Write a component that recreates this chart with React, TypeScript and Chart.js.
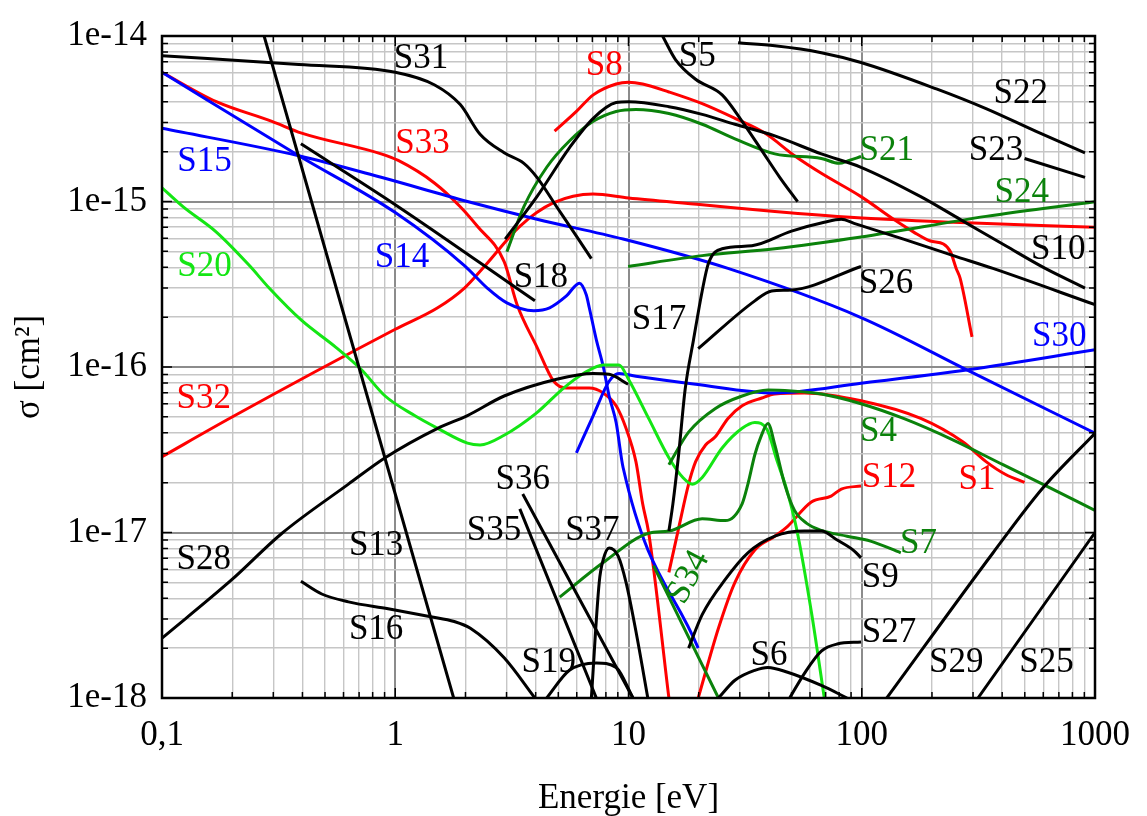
import React, { useEffect, useRef } from 'react';
import { Chart, registerables } from 'chart.js';

Chart.register(...registerables);

type P = [number, number];

// ---- axes ----
const X_DECADES = [0.1, 1, 10, 100, 1000];
const X_LABELS = ['0,1', '1', '10', '100', '1000'];
const Y_DECADES = [1e-18, 1e-17, 1e-16, 1e-15, 1e-14];
const Y_LABELS = ['1e-18', '1e-17', '1e-16', '1e-15', '1e-14'];
const MINOR = [2, 3, 4, 5, 6, 7, 8, 9];
const X_TITLE = 'Energie [eV]';
const Y_TITLE = 'σ [cm²]';

// ---- series: [energy eV, cross section cm²] ----
const S1: P[] = [[14.9, 5.74e-18], [16.4, 1.06e-17], [18.1, 1.96e-17], [19.4, 2.68e-17], [21.4, 3.38e-17], [23.5, 3.77e-17], [26.7, 4.89e-17], [30.7, 5.83e-17], [37.3, 6.5e-17], [42.4, 6.87e-17], [56.8, 6.97e-17], [99.3, 6.25e-17], [179, 4.89e-17], [272, 3.52e-17], [341, 2.68e-17], [414, 2.24e-17], [499, 2.01e-17]];
const S4: P[] = [[14.9, 2.57e-17], [18.1, 4.04e-17], [23.5, 5.6e-17], [30.7, 6.68e-17], [39.6, 7.26e-17], [50.0, 7.16e-17], [67.1, 6.87e-17], [99.3, 6.0e-17], [151, 4.89e-17], [247, 3.62e-17], [403, 2.57e-17], [596, 1.96e-17], [1000, 1.36e-17]];
const S5: P[] = [[14.0, 1e-14], [15.9, 7.21e-15], [19.4, 5.48e-15], [25.2, 4.41e-15], [30.7, 3.05e-15], [37.3, 2.03e-15], [44.5, 1.4e-15], [53.1, 9.97e-16]];
const S6: P[] = [[24.3, 1e-18], [28.6, 1.28e-18], [34.8, 1.47e-18], [39.6, 1.53e-18], [48.1, 1.43e-18], [67.1, 1.19e-18], [86.5, 1e-18]];
const S7: P[] = [[5.07, 4.07e-18], [7.79, 6.58e-18], [12.2, 9.9e-18], [14.9, 1.02e-17], [20.7, 1.21e-17], [26.0, 1.18e-17], [30.7, 1.49e-17], [32.5, 1.96e-17], [34.8, 2.95e-17], [36.9, 3.77e-17], [39.6, 4.56e-17], [42.4, 3.38e-17], [46.7, 1.96e-17], [51.5, 1.36e-17], [57.9, 1.14e-17], [67.1, 1.03e-17], [86.5, 9.5e-18], [109, 8.87e-18], [147, 7.54e-18]];
const S8: P[] = [[4.82, 2.66e-15], [5.98, 3.5e-15], [7.06, 4.41e-15], [8.85, 5.13e-15], [10.0, 5.26e-15], [11.5, 5.13e-15], [14.9, 4.59e-15], [20.7, 3.9e-15], [28.6, 3.18e-15], [38.4, 2.59e-15], [51.5, 1.89e-15], [67.1, 1.48e-15], [99.3, 1.07e-15], [137, 7.8e-16], [167, 6.53e-16], [197, 5.77e-16], [224, 5.54e-16], [240, 4.97e-16], [254, 3.94e-16], [264, 3.44e-16], [297, 1.52e-16]];
const S9: P[] = [[18.1, 2.0e-18], [20.7, 3.19e-18], [26.0, 5.21e-18], [32.5, 7.54e-18], [42.4, 9.5e-18], [56.8, 1.02e-17], [67.1, 1.02e-17], [78.5, 9.0e-18], [92.7, 7.75e-18], [99.3, 7.03e-18]];
const S10: P[] = [[2.96, 5.93e-16], [4.05, 1.07e-15], [5.58, 2.11e-15], [7.06, 3.18e-15], [8.85, 3.96e-15], [10.0, 4.01e-15], [14.9, 3.74e-15], [20.7, 3.36e-15], [28.6, 2.93e-15], [42.4, 2.49e-15], [67.1, 1.94e-15], [99.3, 1.61e-15], [179, 1.07e-15], [264, 7.8e-16], [414, 5.4e-16], [612, 3.94e-16], [906, 3.0e-16]];
const S12: P[] = [[19.9, 1e-18], [24.3, 2.64e-18], [28.6, 5.0e-18], [34.8, 7.85e-18], [42.4, 9.5e-18], [48.1, 1.09e-17], [60.8, 1.53e-17], [73.9, 1.66e-17], [81.7, 1.83e-17], [99.3, 1.91e-17]];
const S13: P[] = [[0.274, 1e-14], [1.78, 1e-18]];
const S14: P[] = [[0.1, 6.04e-15], [0.386, 1.89e-15], [1.0, 8.57e-16], [1.98, 4.1e-16], [2.48, 3.0e-16], [3.01, 2.44e-16], [3.93, 2.19e-16], [4.59, 2.28e-16], [5.42, 2.69e-16], [6.16, 3.21e-16], [6.59, 2.73e-16], [6.79, 2.28e-16], [7.28, 1.46e-16], [7.79, 1.01e-16], [8.26, 6.68e-17], [8.85, 4.62e-17], [9.48, 2.47e-17], [19.9, 2.0e-18]];
const S15: P[] = [[0.1, 2.77e-15], [0.386, 1.89e-15], [0.87, 1.4e-15], [2.04, 1.0e-15], [4.05, 7.82e-16], [9.48, 5.93e-16], [26.7, 3.94e-16], [99.3, 1.99e-16], [291, 9.4e-17], [1000, 3.98e-17]];
const S16: P[] = [[0.394, 5.07e-18], [0.484, 4.25e-18], [0.63, 3.81e-18], [0.932, 3.46e-18], [1.42, 3.1e-18], [1.79, 2.9e-18], [2.1, 2.64e-18], [2.93, 1.75e-18], [3.97, 1e-18]];
const S17: P[] = [[14.9, 1.02e-17], [15.5, 1.49e-17], [16.4, 2.95e-17], [17.5, 7.36e-17], [19.0, 1.46e-16], [20.7, 2.88e-16], [22.0, 4.22e-16], [25.2, 5.18e-16], [33.8, 5.4e-16], [50.0, 6.62e-16], [69.1, 7.49e-16], [81.7, 7.8e-16], [92.7, 7.38e-16], [151, 5.93e-16], [247, 4.71e-16], [365, 3.94e-16], [1000, 2.38e-16]];
const S18: P[] = [[0.394, 2.23e-15], [1.0, 9.57e-16], [3.97, 2.51e-16]];
const S19: P[] = [[4.46, 1e-18], [5.58, 1.47e-18], [7.28, 1.63e-18], [8.85, 1.53e-18], [10.45, 1e-18]];
const S20: P[] = [[0.1, 1.21e-15], [0.123, 9.3e-16], [0.171, 6.53e-16], [0.237, 4.1e-16], [0.288, 3.0e-16], [0.397, 1.91e-16], [0.555, 1.32e-16], [0.715, 9.66e-17], [0.905, 6.68e-17], [1.21, 5.09e-17], [1.52, 4.26e-17], [2.04, 3.47e-17], [2.31, 3.38e-17], [2.93, 3.87e-17], [4.05, 5.3e-17], [5.27, 7.46e-17], [6.41, 9.14e-17], [7.79, 1.03e-16], [9.11, 1.03e-16], [10.0, 8.44e-17], [12.2, 4.89e-17], [14.9, 2.83e-17], [17.1, 2.15e-17], [18.8, 1.96e-17], [20.7, 2.15e-17], [25.2, 3.24e-17], [30.7, 4.26e-17], [34.8, 4.62e-17], [39.2, 4.21e-17], [43.2, 2.75e-17], [47.6, 1.83e-17], [52.5, 1.06e-17], [60.8, 3.32e-18], [69.1, 1e-18]];
const S21: P[] = [[3.01, 4.97e-16], [3.56, 9.3e-16], [4.46, 1.61e-15], [5.58, 2.32e-15], [7.06, 3.05e-15], [8.85, 3.5e-15], [10.76, 3.6e-15], [14.9, 3.4e-15], [20.7, 2.93e-15], [28.6, 2.39e-15], [42.4, 1.94e-15], [67.1, 1.82e-15], [80.0, 1.7e-15], [88.2, 1.77e-15], [99.3, 1.87e-15]];
const S22: P[] = [[29.5, 9.09e-15], [42.4, 8.72e-15], [67.1, 7.93e-15], [99.3, 6.92e-15], [209, 4.79e-15], [341, 3.64e-15], [556, 2.66e-15], [906, 1.97e-15]];
const S23: P[] = [[499, 1.82e-15], [906, 1.4e-15]];
const S24: P[] = [[9.96, 4.05e-16], [20.7, 4.71e-16], [42.4, 5.18e-16], [99.3, 6.1e-16], [341, 8.13e-16], [1000, 9.97e-16]];
const S25: P[] = [[315, 1e-18], [1000, 1.0e-17]];
const S26: P[] = [[19.9, 1.29e-16], [34.8, 2.51e-16], [41.1, 2.88e-16], [50.0, 2.92e-16], [99.3, 4.05e-16]];
const S27: P[] = [[49.1, 1e-18], [56.8, 1.41e-18], [67.1, 1.92e-18], [78.5, 2.12e-18], [99.3, 2.18e-18]];
const S28: P[] = [[0.1, 2.3e-18], [0.198, 5.15e-18], [0.327, 9.9e-18], [0.63, 1.96e-17], [0.905, 2.83e-17], [1.52, 4.26e-17], [2.04, 5.09e-17], [2.93, 6.68e-17], [4.92, 8.44e-17], [7.06, 9.14e-17], [8.26, 9.03e-17], [9.96, 7.87e-17]];
const S29: P[] = [[128, 1e-18], [365, 7.52e-18], [596, 1.85e-17], [1000, 3.98e-17]];
const S30: P[] = [[5.98, 3.03e-17], [7.06, 5.09e-17], [8.26, 8.2e-17], [9.11, 9.14e-17], [10.76, 8.79e-17], [19.4, 7.87e-17], [42.4, 6.97e-17], [99.3, 7.98e-17], [291, 9.66e-17], [1000, 1.27e-16]];
const S31: P[] = [[0.1, 7.6e-15], [0.386, 6.73e-15], [1.0, 6.04e-15], [1.476, 5.06e-15], [1.9, 3.85e-15], [2.31, 2.55e-15], [2.93, 1.97e-15], [3.56, 1.7e-15], [4.05, 1.4e-15], [4.92, 9.3e-16], [5.98, 6.18e-16], [6.93, 4.52e-16]];
const S32: P[] = [[0.1, 2.87e-17], [0.198, 4.95e-17], [1.0, 1.69e-16], [1.52, 2.28e-16], [1.98, 3.0e-16], [2.41, 4.05e-16], [3.42, 7.08e-16], [4.78, 9.83e-16], [7.06, 1.11e-15], [10.0, 1.05e-15], [20.7, 9.57e-16], [42.4, 8.7e-16], [92.7, 8.0e-16], [247, 7.49e-16], [1000, 6.98e-16]];
const S33: P[] = [[0.1, 6.04e-15], [0.171, 4.01e-15], [0.296, 3.05e-15], [0.397, 2.59e-15], [0.87, 1.94e-15], [1.03, 1.77e-15], [1.476, 1.29e-15], [1.9, 9.3e-16], [2.25, 7.08e-16], [2.93, 4.33e-16], [3.33, 2.38e-16], [4.05, 1.32e-16], [4.78, 8.2e-17], [5.42, 7.46e-17], [6.79, 7.46e-17], [7.79, 6.97e-17], [8.85, 5.83e-17], [9.76, 4.26e-17], [10.76, 2.68e-17], [11.5, 1.49e-17], [12.2, 1.0e-17], [14.9, 1e-18]];
const S34: P[] = [[12.8, 6.3e-18], [24.3, 1e-18]];
const S35: P[] = [[3.42, 1.39e-17], [7.28, 1e-18]];
const S36: P[] = [[3.52, 1.71e-17], [10.45, 1e-18]];
const S37: P[] = [[6.93, 1e-18], [7.49, 5.0e-18], [7.79, 6.85e-18], [8.26, 8.07e-18], [9.02, 7.23e-18], [9.76, 5.0e-18], [10.76, 2.53e-18], [12.1, 1e-18]];

// ---- styles ----
const BLACK = '#000000';
const RED = '#ff0000';
const BLUE = '#0000ff';
const LIME = '#14e614';
const GREEN = '#0b820b';
const FONT = "'Liberation Serif', 'Times New Roman', serif";
const FS = 35;

const SERIES: { name: string; data: P[]; color: string }[] = [
  { name: 'S28', data: S28, color: BLACK },
  { name: 'S16', data: S16, color: BLACK },
  { name: 'S13', data: S13, color: BLACK },
  { name: 'S18', data: S18, color: BLACK },
  { name: 'S31', data: S31, color: BLACK },
  { name: 'S10', data: S10, color: BLACK },
  { name: 'S5', data: S5, color: BLACK },
  { name: 'S22', data: S22, color: BLACK },
  { name: 'S23', data: S23, color: BLACK },
  { name: 'S17', data: S17, color: BLACK },
  { name: 'S26', data: S26, color: BLACK },
  { name: 'S9', data: S9, color: BLACK },
  { name: 'S6', data: S6, color: BLACK },
  { name: 'S27', data: S27, color: BLACK },
  { name: 'S29', data: S29, color: BLACK },
  { name: 'S25', data: S25, color: BLACK },
  { name: 'S19', data: S19, color: BLACK },
  { name: 'S35', data: S35, color: BLACK },
  { name: 'S36', data: S36, color: BLACK },
  { name: 'S37', data: S37, color: BLACK },
  { name: 'S21', data: S21, color: GREEN },
  { name: 'S24', data: S24, color: GREEN },
  { name: 'S4', data: S4, color: GREEN },
  { name: 'S7', data: S7, color: GREEN },
  { name: 'S34', data: S34, color: GREEN },
  { name: 'S20', data: S20, color: LIME },
  { name: 'S15', data: S15, color: BLUE },
  { name: 'S14', data: S14, color: BLUE },
  { name: 'S30', data: S30, color: BLUE },
  { name: 'S32', data: S32, color: RED },
  { name: 'S33', data: S33, color: RED },
  { name: 'S8', data: S8, color: RED },
  { name: 'S1', data: S1, color: RED },
  { name: 'S12', data: S12, color: RED },
];

// curve labels, anchored in data coordinates
const LABELS: { text: string; e: number; s: number; color: string; rot?: number }[] = [
  { text: 'S31', e: 1.29, s: 7.31e-15, color: BLACK },
  { text: 'S8', e: 7.87, s: 6.64e-15, color: RED },
  { text: 'S5', e: 19.7, s: 7.51e-15, color: BLACK },
  { text: 'S22', e: 480, s: 4.47e-15, color: BLACK },
  { text: 'S15', e: 0.152, s: 1.74e-15, color: BLUE },
  { text: 'S33', e: 1.31, s: 2.23e-15, color: RED },
  { text: 'S23', e: 376, s: 2.03e-15, color: BLACK },
  { text: 'S21', e: 128, s: 2.03e-15, color: GREEN },
  { text: 'S24', e: 485, s: 1.13e-15, color: GREEN },
  { text: 'S10', e: 696, s: 5.1e-16, color: BLACK },
  { text: 'S20', e: 0.152, s: 4.05e-16, color: LIME },
  { text: 'S14', e: 1.07, s: 4.58e-16, color: BLUE },
  { text: 'S18', e: 4.21, s: 3.48e-16, color: BLACK },
  { text: 'S26', e: 127, s: 3.17e-16, color: BLACK },
  { text: 'S17', e: 13.5, s: 1.94e-16, color: BLACK },
  { text: 'S30', e: 703, s: 1.52e-16, color: BLUE },
  { text: 'S32', e: 0.151, s: 6.41e-17, color: RED },
  { text: 'S4', e: 118, s: 4.04e-17, color: GREEN },
  { text: 'S12', e: 131, s: 2.15e-17, color: RED },
  { text: 'S1', e: 312, s: 2.09e-17, color: RED },
  { text: 'S36', e: 3.52, s: 2.09e-17, color: BLACK },
  { text: 'S35', e: 2.65, s: 1.02e-17, color: BLACK },
  { text: 'S37', e: 7.0, s: 1.02e-17, color: BLACK },
  { text: 'S13', e: 0.828, s: 8.3e-18, color: BLACK },
  { text: 'S28', e: 0.151, s: 6.86e-18, color: BLACK },
  { text: 'S9', e: 120, s: 5.36e-18, color: BLACK },
  { text: 'S7', e: 175, s: 8.52e-18, color: GREEN },
  { text: 'S34', e: 18.1, s: 5.36e-18, color: GREEN, rot: -62 },
  { text: 'S16', e: 0.828, s: 2.6e-18, color: BLACK },
  { text: 'S27', e: 131, s: 2.49e-18, color: BLACK },
  { text: 'S19', e: 4.55, s: 1.63e-18, color: BLACK },
  { text: 'S6', e: 40.0, s: 1.8e-18, color: BLACK },
  { text: 'S29', e: 254, s: 1.63e-18, color: BLACK },
  { text: 'S25', e: 619, s: 1.63e-18, color: BLACK },
];

type Tick = { value: number; major: boolean };
function buildTicks(decades: number[]): Tick[] {
  const out: Tick[] = [];
  decades.forEach((d, i) => {
    out.push({ value: d, major: true });
    if (i < decades.length - 1) MINOR.forEach((m) => out.push({ value: d * m, major: false }));
  });
  return out;
}
function labelFor(value: number, decades: number[], labels: string[]): string {
  for (let i = 0; i < decades.length; i++) {
    if (Math.abs(Math.log10(value) - Math.log10(decades[i])) < 1e-6) return labels[i];
  }
  return '';
}

const X_TICKS = buildTicks(X_DECADES);
const Y_TICKS = buildTicks(Y_DECADES);

const overlay = {
  id: 'overlay',
  afterDatasetsDraw(chart: any) {
    const { ctx, chartArea, scales } = chart;
    const { left, right, top, bottom } = chartArea;
    const xs = scales.x;
    const ys = scales.y;
    ctx.save();
    ctx.strokeStyle = '#000';
    ctx.lineWidth = 1.5;
    ctx.beginPath();
    X_TICKS.forEach((t) => {
      const px = xs.getPixelForValue(t.value);
      const len = t.major ? 10 : 6;
      ctx.moveTo(px, bottom);
      ctx.lineTo(px, bottom - len);
      ctx.moveTo(px, top);
      ctx.lineTo(px, top + len);
    });
    Y_TICKS.forEach((t) => {
      const py = ys.getPixelForValue(t.value);
      const len = t.major ? 10 : 6;
      ctx.moveTo(left, py);
      ctx.lineTo(left + len, py);
      ctx.moveTo(right, py);
      ctx.lineTo(right - len, py);
    });
    ctx.stroke();
    ctx.lineWidth = 2.5;
    ctx.strokeRect(left, top, right - left, bottom - top);

    ctx.font = `${FS}px ${FONT}`;
    ctx.textAlign = 'center';
    ctx.textBaseline = 'middle';
    LABELS.forEach((l) => {
      const px = xs.getPixelForValue(l.e);
      const py = ys.getPixelForValue(l.s);
      ctx.fillStyle = l.color;
      if (l.rot) {
        ctx.save();
        ctx.translate(px, py);
        ctx.rotate((l.rot * Math.PI) / 180);
        ctx.fillText(l.text, 0, 0);
        ctx.restore();
      } else {
        ctx.fillText(l.text, px, py);
      }
    });
    ctx.restore();
  },
};

const gridColor = (c: any) => (c.tick && c.tick.major ? '#8c8c8c' : '#c6c6c6');
const gridWidth = (c: any) => (c.tick && c.tick.major ? 2 : 1.4);

export default function App() {
  const ref = useRef<HTMLCanvasElement | null>(null);
  useEffect(() => {
    document.body.style.margin = '0';
    const canvas = ref.current;
    if (!canvas) return;
    const chart = new Chart(canvas, {
      type: 'line',
      data: {
        datasets: SERIES.map((s) => ({
          label: s.name,
          data: s.data.map(([x, y]) => ({ x, y })),
          borderColor: s.color,
          backgroundColor: s.color,
          borderWidth: 3,
          pointRadius: 0,
          fill: false,
          cubicInterpolationMode: 'monotone' as const,
          clip: 0,
        })),
      },
      options: {
        animation: false,
        responsive: false,
        maintainAspectRatio: false,
        events: [],
        layout: { padding: { left: 0, right: 44, top: 23, bottom: 0 } },
        plugins: { legend: { display: false }, tooltip: { enabled: false } },
        scales: {
          x: {
            type: 'logarithmic',
            position: 'bottom',
            min: 0.1,
            max: 1000,
            afterBuildTicks: (s: any) => {
              s.ticks = X_TICKS.map((t) => ({ ...t }));
            },
            afterFit: (s: any) => {
              s.height = 118;
            },
            ticks: {
              autoSkip: false,
              maxRotation: 0,
              minRotation: 0,
              padding: 17,
              color: '#000',
              font: { family: FONT, size: FS },
              callback: (v: any, i: number, ticks: any[]) =>
                ticks[i] && ticks[i].major ? labelFor(Number(v), X_DECADES, X_LABELS) : '',
            },
            grid: { color: gridColor, lineWidth: gridWidth, drawTicks: false },
            border: { display: false },
            title: {
              display: true,
              text: X_TITLE,
              color: '#000',
              font: { family: FONT, size: FS, lineHeight: 1 },
              padding: { top: 0, bottom: 0 },
            },
          },
          y: {
            type: 'logarithmic',
            position: 'left',
            min: 1e-18,
            max: 1e-14,
            afterBuildTicks: (s: any) => {
              s.ticks = Y_TICKS.map((t) => ({ ...t }));
            },
            afterFit: (s: any) => {
              s.width = 162;
            },
            ticks: {
              autoSkip: false,
              padding: 15,
              color: '#000',
              font: { family: FONT, size: FS },
              callback: (v: any, i: number, ticks: any[]) =>
                ticks[i] && ticks[i].major ? labelFor(Number(v), Y_DECADES, Y_LABELS) : '',
            },
            grid: { color: gridColor, lineWidth: gridWidth, drawTicks: false },
            border: { display: false },
            title: {
              display: true,
              text: Y_TITLE,
              color: '#000',
              font: { family: FONT, size: FS, lineHeight: 1 },
              padding: { top: 12, bottom: 0 },
            },
          },
        },
      },
      plugins: [overlay],
    } as any);
    return () => chart.destroy();
  }, []);
  return (
    <div style={{ width: 1147, height: 816, background: '#fff' }}>
      <canvas ref={ref} width={1147} height={816} style={{ display: 'block' }} />
    </div>
  );
}
